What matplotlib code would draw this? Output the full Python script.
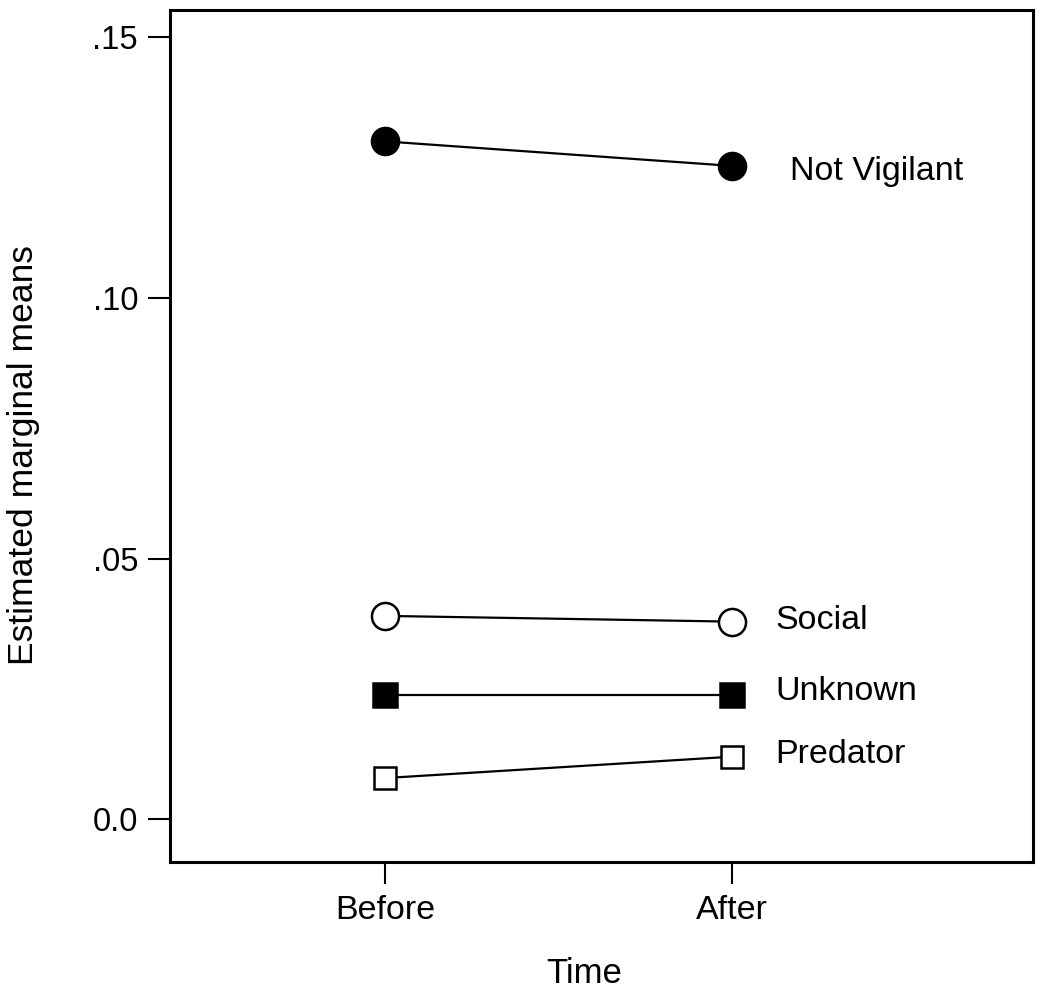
import matplotlib
matplotlib.use("Agg")
import matplotlib.pyplot as plt

plt.rcParams['font.family'] = ['Liberation Sans', 'DejaVu Sans']

# Dados
time_labels = ["Before", "After"]
not_vigilant = [0.130, 0.1253]
social = [0.0390, 0.0379]
unknown = [0.0238, 0.0238]
predator = [0.0079, 0.0120]
ytick_vals = [0.0, 0.05, 0.10, 0.15]
ytick_labels = ["0.0", ".05", ".10", ".15"]

fig = plt.figure(figsize=(10.48, 9.96), dpi=100)
ax = fig.add_axes([170 / 1048, 1 - 862 / 996, 863 / 1048, 852 / 996])

x = list(range(len(time_labels)))

# nome, valores, marcador, cor de preenchimento, tamanho, deslocamento do rótulo (px)
series = [
    ("Not Vigilant", not_vigilant, "o", "black", 19.5, (58, -14)),
    ("Social", social, "o", "white", 19.5, (43, -7)),
    ("Unknown", unknown, "s", "black", 17, (43, -5)),
    ("Predator", predator, "s", "white", 16, (43, -6)),
]

for name, vals, mk, fc, ms, off in series:
    ax.plot(x, vals, color="black", lw=1.6, marker=mk, markersize=ms,
            markerfacecolor=fc, markeredgecolor="black", markeredgewidth=1.8)
    ax.annotate(name, xy=(x[-1], vals[-1]), xytext=off, textcoords="offset pixels",
                ha="left", va="baseline", fontsize=24.5)

ax.set_xlim(-0.620, 1.867)
ax.set_ylim(-0.0082, 0.1552)
ax.set_xticks(x)
ax.set_xticklabels(time_labels, fontsize=24.5)
ax.set_yticks(ytick_vals)
ax.set_yticklabels(ytick_labels, fontsize=23.5)

for sp in ax.spines.values():
    sp.set_linewidth(2.2)
ax.tick_params(axis="both", direction="out", length=16, width=1.5)
ax.tick_params(axis="x", pad=8)
ax.tick_params(axis="y", pad=7)

ax.set_xlabel("Time", fontsize=25)
ax.set_ylabel("Estimated marginal means", fontsize=25.5)
ax.xaxis.set_label_coords((584 - 170) / 863, -(957 - 862) / 852)
ax.yaxis.set_label_coords(-(170 - 40) / 863, (862 - 455) / 852)

fig.savefig("out.png", dpi=100)
